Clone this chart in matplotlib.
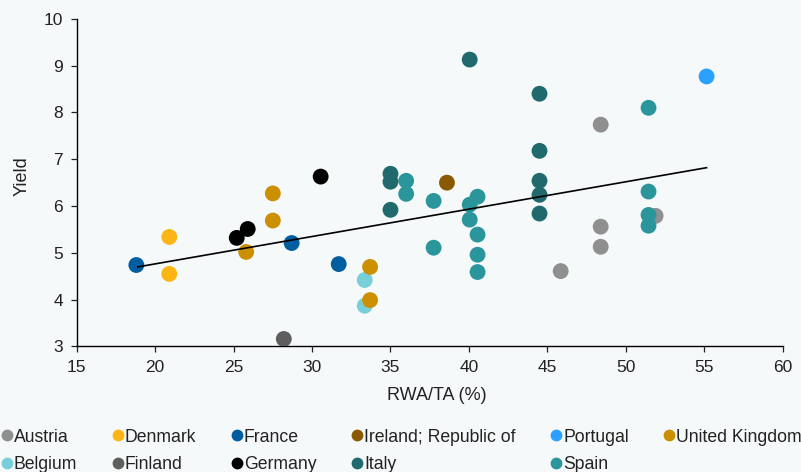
import matplotlib.pyplot as plt
from matplotlib.lines import Line2D

plt.rcParams['font.family'] = ['Liberation Sans', 'DejaVu Sans']

# RWA/TA (%) and yield per country
austria_x = [48.4, 48.4, 48.4, 45.85, 51.9]
austria_y = [7.74, 5.56, 5.13, 4.61, 5.79]
belgium_x = [33.36, 33.36]
belgium_y = [4.42, 3.87]
denmark_x = [20.9, 20.9]
denmark_y = [5.34, 4.55]
finland_x = [28.2]
finland_y = [3.16]
france_x = [18.8, 28.7, 31.7]
france_y = [4.74, 5.21, 4.76]
germany_x = [25.2, 25.9, 30.55]
germany_y = [5.32, 5.51, 6.63]
ireland_x = [38.6]
ireland_y = [6.5]
italy_x = [40.05, 35.0, 35.0, 35.0, 44.5, 44.5, 44.5, 44.5, 44.5]
italy_y = [9.13, 6.69, 6.52, 5.92, 8.40, 7.18, 6.54, 6.24, 5.84]
portugal_x = [55.15]
portugal_y = [8.77]
spain_x = [36.0, 36.0, 37.75, 37.75, 40.05, 40.55, 40.05, 40.55, 40.55, 40.55,
           51.45, 51.45, 51.45, 51.45]
spain_y = [6.54, 6.26, 6.11, 5.11, 6.03, 6.20, 5.71, 5.39, 4.96, 4.59,
           8.10, 6.31, 5.81, 5.58]
uk_x = [27.5, 27.5, 25.8, 33.7, 33.7]
uk_y = [6.27, 5.69, 5.02, 4.70, 3.99]

# trend line end points
trend_x = [18.9, 55.15]
trend_y = [4.70, 6.82]

series = [
    ('Austria', austria_x, austria_y, '#8f8f8f'),
    ('Belgium', belgium_x, belgium_y, '#78cfd9'),
    ('Denmark', denmark_x, denmark_y, '#fdb515'),
    ('Finland', finland_x, finland_y, '#5e5e5e'),
    ('France', france_x, france_y, '#005da0'),
    ('Germany', germany_x, germany_y, '#000000'),
    ('Ireland; Republic of', ireland_x, ireland_y, '#8a5a00'),
    ('Italy', italy_x, italy_y, '#206a6e'),
    ('Portugal', portugal_x, portugal_y, '#2aa0ff'),
    ('Spain', spain_x, spain_y, '#2a969c'),
    ('United Kingdom', uk_x, uk_y, '#cc8f00'),
]

bg = '#f5f9fa'
fig = plt.figure(figsize=(8.01, 4.72), dpi=100, facecolor=bg)
ax = fig.add_axes([0.0958, 0.266, 0.8813, 0.694], facecolor=bg)

# draw Spain last so it sits on top like the original
order = ['Austria', 'Belgium', 'Denmark', 'Finland', 'France', 'Germany',
         'Ireland; Republic of', 'Italy', 'Portugal', 'United Kingdom', 'Spain']
lookup = {s[0]: s for s in series}
for name in order:
    _, xs, ys, c = lookup[name]
    ax.scatter(xs, ys, s=130, color=c, edgecolors='none', zorder=3)

ax.plot(trend_x, trend_y, color='black', lw=1.2, zorder=4)

ax.set_xlim(15, 60)
ax.set_ylim(3, 10)
ax.set_xticks(range(15, 61, 5))
ax.set_yticks(range(3, 11))
ax.spines['top'].set_visible(False)
ax.spines['right'].set_visible(False)
for s in ['left', 'bottom']:
    ax.spines[s].set_linewidth(1.0)
ax.tick_params(labelsize=12.5, length=4, width=0.9, pad=6, colors='#222222')
ax.set_xlabel('RWA/TA (%)', fontsize=13, color='#222222')
ax.set_ylabel('Yield', fontsize=13, color='#222222')
ax.xaxis.set_label_coords(0.51, -0.125)
ax.yaxis.set_label_coords(-0.066, 0.52)

handles = [Line2D([], [], marker='o', ls='', color=c, markersize=8.5,
                  markeredgewidth=0) for _, _, _, c in series]
labels = [s[0] for s in series]
fig.legend(handles, labels, loc='upper left', bbox_to_anchor=(-0.006, 0.107),
           ncol=6, frameon=False, fontsize=12.7, handlelength=0.5,
           handletextpad=0.15, columnspacing=2.05, labelspacing=0.62,
           borderaxespad=0, labelcolor='#222222')

fig.savefig('out.png', dpi=100, facecolor=bg)
